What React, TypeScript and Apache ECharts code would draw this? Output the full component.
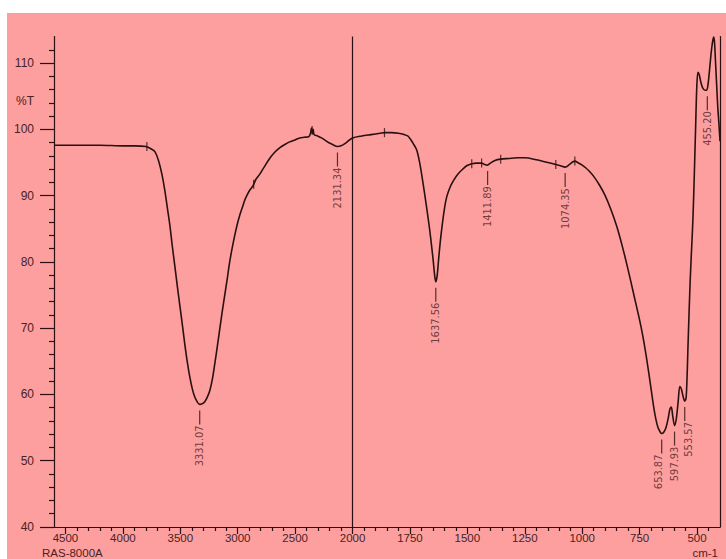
import { useEffect, useRef } from 'react';
import * as echarts from 'echarts';

// ---- spectrum (wavenumber cm-1, %T) ----
const wavenumbers = [
  4600, 4400, 4200, 4000, 3900, 3800, 3750, 3720, 3690, 3660, 3635, 3610, 3590, 3570, 3548, 3525,
  3504, 3480, 3461, 3440, 3417, 3395, 3374, 3350, 3331, 3310, 3287, 3265, 3243, 3220, 3200, 3178,
  3157, 3135, 3113, 3090, 3070, 3048, 3026, 3005, 2983, 2960, 2939, 2918, 2896, 2870, 2861, 2840,
  2809, 2770, 2722, 2680, 2635, 2590, 2548, 2500, 2461, 2420, 2380, 2365, 2358, 2350, 2343, 2335,
  2304, 2270, 2243, 2210, 2174, 2131, 2100, 2070, 2040, 2000, 1960, 1920, 1880, 1861, 1830, 1800,
  1775, 1760, 1750, 1735, 1721, 1708, 1695, 1680, 1664, 1650, 1642, 1637.56, 1632, 1625, 1615, 1600,
  1590, 1575, 1560, 1540, 1520, 1503, 1481, 1460, 1438, 1425, 1412, 1400, 1380, 1355, 1320, 1280,
  1250, 1200, 1150, 1115, 1095, 1074, 1055, 1040, 1032, 1020, 1000, 985, 970, 950, 925, 900,
  875, 850, 825, 800, 775, 750, 735, 720, 710, 700, 690, 680, 670, 660, 653.87, 645,
  635, 625, 618, 612, 606, 597.93, 590, 582, 575, 568, 560, 553.57, 548, 544, 540, 535,
  530, 525, 518, 512, 506, 501, 496, 490, 484, 476, 465, 458, 452, 446, 440, 434,
  428, 424, 420, 415, 410, 405, 400,
];
const transmittance = [
  97.6, 97.6, 97.6, 97.5, 97.5, 97.4, 97.0, 96.6, 95.3, 93.2, 90.8, 87.8, 85.4, 82.4, 79.4, 76.2,
  73.4, 70.2, 67.6, 65.0, 62.6, 60.8, 59.6, 58.8, 58.5, 58.6, 58.9, 59.6, 60.6, 62.4, 64.6, 67.2,
  69.8, 72.5, 75.0, 77.6, 80.0, 82.1, 84.0, 85.6, 87.0, 88.2, 89.3, 90.1, 90.8, 91.4, 91.7, 92.5,
  93.2, 94.3, 95.6, 96.5, 97.2, 97.7, 98.1, 98.4, 98.7, 98.8, 98.9, 99.5, 100.2, 99.4, 100.0, 99.2,
  99.0, 98.7, 98.4, 98.0, 97.7, 97.4, 97.5, 97.8, 98.2, 98.7, 99.0, 99.2, 99.4, 99.5, 99.5, 99.4,
  99.2, 99.0, 98.6, 97.8, 96.9, 95.0, 92.3, 88.8, 84.8, 80.6, 77.8, 77.0, 77.8, 80.5, 84.0, 88.0,
  89.8, 91.3, 92.3, 93.3, 94.0, 94.5, 94.8, 94.9, 94.9, 94.7, 94.6, 94.9, 95.3, 95.5, 95.6, 95.7,
  95.7, 95.4, 95.0, 94.7, 94.5, 94.3, 94.7, 95.1, 95.2, 95.0, 94.6, 94.2, 93.7, 92.9, 91.6, 90.0,
  87.9, 85.4, 82.3, 78.8, 75.0, 71.2, 68.6, 65.5, 63.2, 60.8, 58.4, 56.4, 55.0, 54.3, 54.1, 54.3,
  55.0, 56.5, 57.8, 58.1, 56.8, 55.3, 56.4, 59.0, 61.2, 60.8, 59.6, 59.0, 59.4, 62.0, 66.5, 72.0,
  77.0, 81.0, 86.3, 93.0, 100.5, 106.5, 108.6, 108.2, 107.2, 106.3, 105.9, 105.9, 106.8, 108.8, 111.0, 112.8,
  113.9, 113.2, 110.5, 107.0, 103.5, 101.0, 98.2,
];

// ---- axes ----
const xTickLabels = [4500, 4000, 3500, 3000, 2500, 2000, 1750, 1500, 1250, 1000, 750, 500];
const xMinorTicks = [
  4400, 4300, 4200, 4100, 3900, 3800, 3700, 3600, 3400, 3300, 3200, 3100, 2900, 2800, 2700, 2600,
  2400, 2300, 2200, 2100, 1950, 1900, 1850, 1800, 1700, 1650, 1600, 1550, 1450, 1400, 1350, 1300,
  1200, 1150, 1100, 1050, 950, 900, 850, 800, 700, 650, 600, 550, 450,
];
const yTickLabels = [40, 50, 60, 70, 80, 90, 100, 110];
const yMinorTicks = [
  42, 44, 46, 48, 52, 54, 56, 58, 62, 64, 66, 68, 72, 74, 76, 78, 82, 84, 86, 88, 92, 94, 96, 98,
  102, 104, 106, 108, 112,
];
const yUnitPosition = 104.3;

// ---- peak picks ----
const peakWavenumbers = [3331.07, 2131.34, 1637.56, 1411.89, 1074.35, 653.87, 597.93, 553.57, 455.2];
const peakTransmittance = [58.5, 97.4, 77.0, 94.6, 94.3, 54.1, 55.3, 59.0, 105.9];
const peakLabels = ['3331.07', '2131.34', '1637.56', '1411.89', '1074.35', '653.87', '597.93', '553.57', '455.20'];
// small sideways nudges (px) of the crowded peak labels
const peakLabelShift = [0, 0, 0, 0, 0, -3, 0, 4, 0];

const markerWavenumbers = [3791, 2861, 2352, 1861, 1481, 1438, 1355, 1115, 1032];
const markerTransmittance = [97.4, 91.7, 99.8, 99.5, 94.8, 94.9, 95.5, 94.7, 95.2];

// split scale: below 2000 cm-1 is expanded 2x
const toU = (w: number) => (w <= 2000 ? w : 2000 + (w - 2000) / 2);
const fromU = (u: number) => (u <= 2000 ? u : 2000 + (u - 2000) * 2);

const INK = '#2a1010';
const TEXT = '#4a2222';
const FONT = "'Liberation Sans', Arial, sans-serif";

export default function App() {
  const ref = useRef<HTMLDivElement>(null);

  useEffect(() => {
    document.body.style.margin = '0';
    if (!ref.current) return;
    const chart = echarts.init(ref.current, null, { renderer: 'svg' });

    const xBase = {
      type: 'value' as const,
      min: toU(400),
      max: toU(4600),
      inverse: true,
      position: 'bottom' as const,
      splitLine: { show: false },
      minorTick: { show: false },
    };
    const yBase = {
      type: 'value' as const,
      min: 40,
      max: 114,
      splitLine: { show: false },
      minorTick: { show: false },
    };

    chart.setOption({
      animation: false,
      backgroundColor: 'transparent',
      grid: { left: 54, right: 6, top: 36.5, bottom: 32 },
      xAxis: [
        {
          ...xBase,
          axisLine: { show: true, lineStyle: { color: INK, width: 1.2 } },
          axisTick: { show: true, length: 7, customValues: xTickLabels.map(toU), lineStyle: { color: INK, width: 1.2 } },
          axisLabel: {
            show: true,
            customValues: xTickLabels.map(toU),
            formatter: (v: number) => String(Math.round(fromU(v))),
            color: TEXT,
            fontSize: 11.5,
            fontFamily: FONT,
            margin: 5,
          },
        },
        {
          ...xBase,
          axisLine: { show: false },
          axisTick: { show: true, length: 4, customValues: xMinorTicks.map(toU), lineStyle: { color: INK, width: 1.2 } },
          axisLabel: { show: false },
        },
      ],
      yAxis: [
        {
          ...yBase,
          position: 'left',
          axisLine: { show: true, lineStyle: { color: INK, width: 1.2 } },
          axisTick: { show: true, length: 14, customValues: yTickLabels, lineStyle: { color: INK, width: 1.2 } },
          axisLabel: {
            show: true,
            customValues: [...yTickLabels, yUnitPosition],
            formatter: (v: number) => (v === yUnitPosition ? '%T' : String(v)),
            color: TEXT,
            fontSize: 12,
            fontFamily: FONT,
            margin: 20,
          },
        },
        {
          ...yBase,
          position: 'left',
          axisLine: { show: false },
          axisTick: { show: true, length: 5, customValues: yMinorTicks, lineStyle: { color: INK, width: 1.2 } },
          axisLabel: { show: false },
        },
        {
          ...yBase,
          position: 'right',
          axisLine: { show: true, lineStyle: { color: INK, width: 1.2 } },
          axisTick: { show: false },
          axisLabel: { show: false },
        },
      ],
      series: [
        {
          type: 'line',
          name: 'spectrum',
          xAxisIndex: 0,
          yAxisIndex: 0,
          showSymbol: false,
          symbol: 'none',
          smooth: 0.3,
          lineStyle: { color: INK, width: 1.6 },
          data: wavenumbers.map((w, i) => [toU(w), transmittance[i]]),
          markLine: {
            silent: true,
            symbol: 'none',
            label: { show: false },
            lineStyle: { color: INK, width: 1.2, type: 'solid' },
            data: [{ xAxis: toU(2000) }],
          },
          z: 3,
        },
        {
          type: 'scatter',
          name: 'markers',
          symbol: 'rect',
          symbolSize: [1.2, 9],
          itemStyle: { color: INK },
          data: markerWavenumbers.map((w, i) => [toU(w), markerTransmittance[i]]),
          z: 4,
        },
        {
          type: 'scatter',
          name: 'peaks',
          symbol: 'rect',
          symbolSize: [1.2, 14],
          symbolOffset: [0, 13],
          itemStyle: { color: INK },
          label: {
            show: true,
            position: 'bottom',
            distance: 1,
            rotate: 90,
            align: 'right',
            verticalAlign: 'middle',
            color: TEXT,
            fontSize: 11,
            fontFamily: "'Liberation Sans Narrow', 'DejaVu Sans Condensed', 'Liberation Sans', sans-serif",
            formatter: (p: any) => peakLabels[p.dataIndex],
          },
          data: peakWavenumbers.map((w, i) => ({
            value: [toU(w), peakTransmittance[i]],
            label: { offset: [0, peakLabelShift[i]] },
          })),
          z: 4,
        },
      ],
      graphic: [
        {
          type: 'text',
          left: 42,
          top: 547,
          style: { text: 'RAS-8000A', fill: TEXT, fontSize: 11.5, fontFamily: FONT },
        },
        {
          type: 'text',
          right: 8,
          top: 547,
          style: { text: 'cm-1', fill: TEXT, fontSize: 11.5, fontFamily: FONT },
        },
      ],
    });

    return () => chart.dispose();
  }, []);

  return (
    <div style={{ position: 'fixed', left: 0, top: 0, width: 726, height: 559, background: '#ffffff' }}>
      <div style={{ position: 'absolute', left: 7, top: 13, width: 719, height: 546, background: '#fd9f9f' }} />
      <div ref={ref} style={{ position: 'absolute', left: 0, top: 0, width: 726, height: 559 }} />
    </div>
  );
}
